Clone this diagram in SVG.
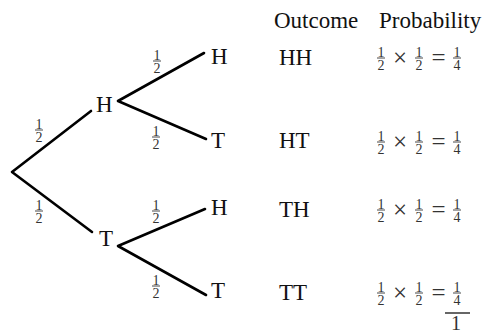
<svg xmlns="http://www.w3.org/2000/svg" width="489" height="334" viewBox="0 0 489 334">
<style>
.t{font-family:"Liberation Serif","Times New Roman",serif;font-size:23px;fill:#111}
.f{font-family:"Liberation Serif","Times New Roman",serif;font-size:14px;fill:#333;text-anchor:middle}
.op{font-family:"Liberation Serif","Times New Roman",serif;font-size:25px;fill:#333;text-anchor:middle}
.e{stroke:#000;stroke-width:2.6;fill:none;stroke-linecap:round;stroke-linejoin:round}
.b{stroke:#333;stroke-width:0.9}
</style>
<defs>
<g id="half"><text class="f" x="0" y="-1.5">1</text><line class="b" x1="-4" y1="0" x2="4" y2="0"/><text class="f" x="0" y="11.5">2</text></g>
<g id="quarter"><text class="f" x="0" y="-1.5">1</text><line class="b" x1="-4" y1="0" x2="4" y2="0"/><text class="f" x="0" y="11.5">4</text></g>
<g id="eq"><use href="#half" x="381" y="0"/><text class="op" x="400" y="8">×</text><use href="#half" x="419" y="0"/><text class="op" x="438.5" y="8">=</text><use href="#quarter" x="457" y="0"/></g>
</defs>
<g id="connectors">
<polyline class="e" points="91,111 12,172 92,232"/>
<polyline class="e" points="204,53 118,101 206,139"/>
<polyline class="e" points="205,209 118,246 206,295"/>
</g>
<g id="edge-labels">
<use href="#half" x="39" y="130"/>
<use href="#half" x="39" y="211"/>
<use href="#half" x="157" y="61"/>
<use href="#half" x="156" y="137"/>
<use href="#half" x="156" y="211"/>
<use href="#half" x="156" y="286"/>
</g>
<g id="node-H1"><text class="t" x="96" y="112">H</text></g>
<g id="node-T1"><text class="t" x="99" y="246">T</text></g>
<g id="node-HH"><text class="t" x="211" y="64">H</text></g>
<g id="node-HT"><text class="t" x="211" y="148">T</text></g>
<g id="node-TH"><text class="t" x="211" y="215">H</text></g>
<g id="node-TT"><text class="t" x="211" y="298">T</text></g>
<g id="header">
<text class="t" x="274" y="28">Outcome</text>
<text class="t" x="379" y="28">Probability</text>
</g>
<g id="row-HH"><text class="t" x="279" y="65">HH</text><use href="#eq" y="58"/></g>
<g id="row-HT"><text class="t" x="279" y="148">HT</text><use href="#eq" y="142"/></g>
<g id="row-TH"><text class="t" x="279" y="217">TH</text><use href="#eq" y="210"/></g>
<g id="row-TT"><text class="t" x="279" y="300">TT</text><use href="#eq" y="293"/></g>
<g id="total">
<line x1="445" y1="313" x2="470" y2="313" stroke="#333" stroke-width="1.5"/>
<text x="456" y="329.5" text-anchor="middle" fill="#333" font-family="Liberation Serif, Times New Roman, serif" font-size="20">1</text>
</g>
</svg>
